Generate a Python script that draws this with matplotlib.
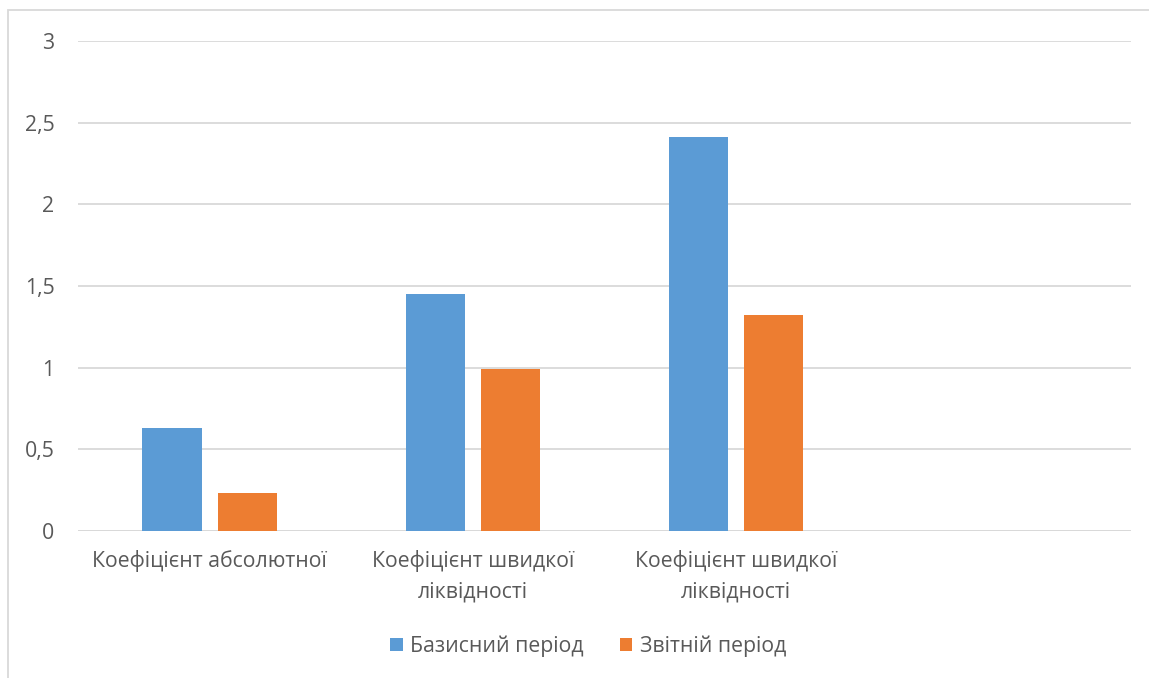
import matplotlib.pyplot as plt
from matplotlib.patches import Rectangle
import numpy as np

plt.rcParams['font.family'] = ['Open Sans', 'DejaVu Sans']

categories = ["Коефіцієнт абсолютної", "Коефіцієнт швидкої\nліквідності",
              "Коефіцієнт швидкої\nліквідності", ""]
base_period = [0.63, 1.45, 2.41, np.nan]
report_period = [0.23, 0.99, 1.32, np.nan]
series_names = ["Базисний період", "Звітній період"]
yticks = [0, 0.5, 1, 1.5, 2, 2.5, 3]
ytick_labels = ["0", "0,5", "1", "1,5", "2", "2,5", "3"]

BLUE = "#5b9bd5"
ORANGE = "#ed7d31"
TEXT = "#595959"
GRID = "#d9d9d9"

W, H = 1149, 678
fig = plt.figure(figsize=(W / 100, H / 100), dpi=100)
ax = fig.add_axes([78 / W, (H - 531) / H, (1131 - 78) / W, 490 / H])

# chart area frame (only top and left edges are visible)
fig.patches.append(Rectangle((8 / W, -0.1), 1.2, (H - 10) / H + 0.1,
                             transform=fig.transFigure, fill=False,
                             edgecolor=GRID, linewidth=1.3))

x = np.arange(len(categories))
width = 0.225
offset = (width + 0.06) / 2
ax.bar(x - offset, base_period, width, color=BLUE, label=series_names[0], zorder=3)
ax.bar(x + offset, report_period, width, color=ORANGE, label=series_names[1], zorder=3)

ax.set_xlim(-0.5, len(categories) - 0.5)
ax.set_ylim(0, 3)
ax.set_yticks(yticks)
ax.set_yticklabels(ytick_labels)
ax.set_xticks(x)
ax.set_xticklabels(categories, linespacing=1.55)
ax.tick_params(axis="both", length=0, colors=TEXT, labelsize=15.3)
ax.tick_params(axis="y", pad=17)
ax.tick_params(axis="x", pad=14)
ax.grid(axis="y", color=GRID, linewidth=1.3, zorder=0)
for spine in ax.spines.values():
    spine.set_visible(False)
ax.axhline(0, color=GRID, linewidth=1.3, zorder=1)

fig.legend(loc="center", bbox_to_anchor=(588 / W, 1 - 646 / H), ncol=2,
           frameon=False, fontsize=15.3, labelcolor=TEXT, handlelength=0.6,
           handleheight=0.6, handletextpad=0.35, columnspacing=1.7)

fig.savefig("out.png", dpi=100, facecolor="white")
